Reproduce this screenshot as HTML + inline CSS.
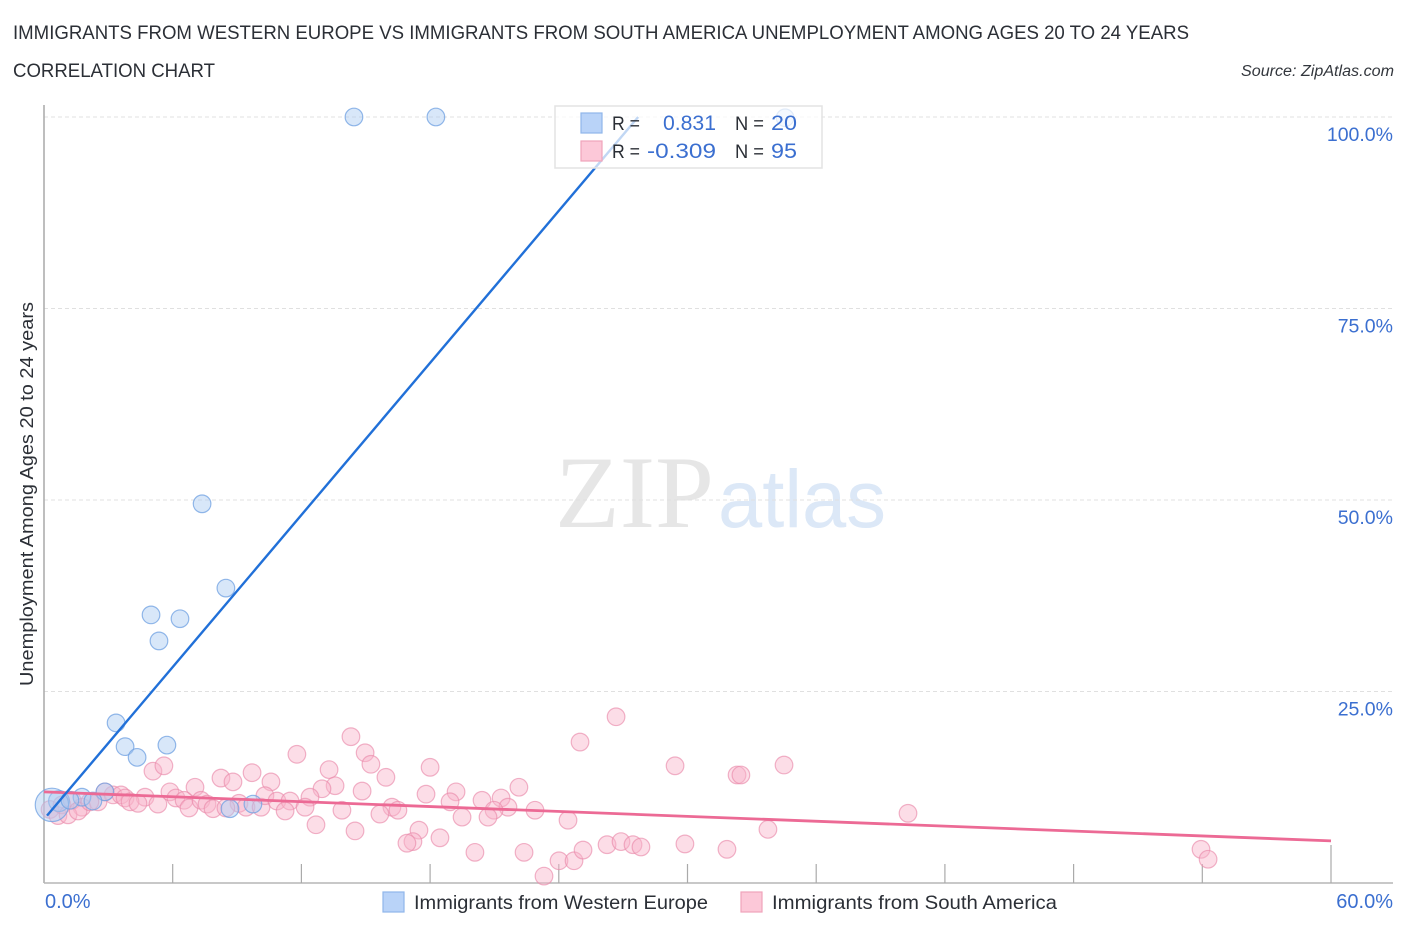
<!DOCTYPE html>
<html lang="en">
<head>
<meta charset="utf-8">
<title>Unemployment Among Ages 20 to 24 years Correlation Chart</title>
<style>
html,body{margin:0;padding:0;background:#fff;}
svg{display:block;font-family:"Liberation Sans",sans-serif;}
</style>
</head>
<body>
<svg id="chart" width="1406" height="930" viewBox="0 0 1406 930" xmlns="http://www.w3.org/2000/svg">
  <rect x="0" y="0" width="1406" height="930" fill="#ffffff"/>
  <text x="13" y="39" font-size="19" fill="#2b2f36" textLength="1176" lengthAdjust="spacingAndGlyphs">IMMIGRANTS FROM WESTERN EUROPE VS IMMIGRANTS FROM SOUTH AMERICA UNEMPLOYMENT AMONG AGES 20 TO 24 YEARS</text>
  <text x="13" y="77" font-size="19" fill="#2b2f36" textLength="202" lengthAdjust="spacingAndGlyphs">CORRELATION CHART</text>
  <text x="1394" y="76" font-size="15.5" font-style="italic" fill="#33373d" text-anchor="end" textLength="153" lengthAdjust="spacingAndGlyphs">Source: ZipAtlas.com</text>
  <g>
    <text x="555" y="527" font-family="'Liberation Serif',serif" font-size="103" fill="#e6e6e6" textLength="159" lengthAdjust="spacingAndGlyphs">ZIP</text>
    <text x="718" y="527" font-size="82" fill="#dce8f7" textLength="168" lengthAdjust="spacingAndGlyphs">atlas</text>
  </g>
  <g id="grid"></g>
  <g id="axes"></g>
  <g id="pink-points"></g>
  <g id="blue-points"></g>
  <g id="trends"></g>
  <g id="tick-labels"></g>
  <text transform="translate(33,686) rotate(-90)" font-size="18.5" fill="#2b2f36" textLength="384" lengthAdjust="spacingAndGlyphs">Unemployment Among Ages 20 to 24 years</text>

  <g>
    <rect x="555" y="106" width="267" height="62" fill="#ffffff" fill-opacity="0.72" stroke="#e3e3e3" stroke-width="1.5"/>
    <rect x="581" y="113" width="21" height="20" fill="#b9d3f8" stroke="#8fb6ea" stroke-width="1.2"/>
    <rect x="581" y="141" width="21" height="20" fill="#fcc8d8" stroke="#f0a3ba" stroke-width="1.2"/>
    <text x="612" y="130" font-size="19.5" fill="#2b2f36" textLength="28" lengthAdjust="spacingAndGlyphs">R =</text>
    <text x="716" y="130" font-size="21" fill="#3b6fd0" text-anchor="end" textLength="53" lengthAdjust="spacingAndGlyphs">0.831</text>
    <text x="735" y="130" font-size="19.5" fill="#2b2f36" textLength="29" lengthAdjust="spacingAndGlyphs">N =</text>
    <text x="771" y="130" font-size="21" fill="#3b6fd0" textLength="26" lengthAdjust="spacingAndGlyphs">20</text>
    <text x="612" y="158" font-size="19.5" fill="#2b2f36" textLength="28" lengthAdjust="spacingAndGlyphs">R =</text>
    <text x="716" y="158" font-size="21" fill="#3b6fd0" text-anchor="end" textLength="69" lengthAdjust="spacingAndGlyphs">-0.309</text>
    <text x="735" y="158" font-size="19.5" fill="#2b2f36" textLength="29" lengthAdjust="spacingAndGlyphs">N =</text>
    <text x="771" y="158" font-size="21" fill="#3b6fd0" textLength="26" lengthAdjust="spacingAndGlyphs">95</text>
  </g>

  <g>
    <g>
      <rect x="383" y="892" width="21" height="20" fill="#b9d3f8" stroke="#8fb6ea" stroke-width="1.2"/>
      <text x="414" y="909" font-size="19.5" fill="#2b2f36" textLength="294" lengthAdjust="spacingAndGlyphs">Immigrants from Western Europe</text>
    </g>
    <g>
      <rect x="741" y="892" width="21" height="20" fill="#fcc8d8" stroke="#f0a3ba" stroke-width="1.2"/>
      <text x="772" y="909" font-size="19.5" fill="#2b2f36" textLength="285" lengthAdjust="spacingAndGlyphs">Immigrants from South America</text>
    </g>
  </g>
</svg>
<script>
const yTickValues = [25, 50, 75, 100];
const yTickLabels = ["25.0%", "50.0%", "75.0%", "100.0%"];
const xTickValues = [0, 6, 12, 18, 24, 30, 36, 42, 48, 54, 60];
const xEndValues = [0, 60];
const xEndLabels = ["0.0%", "60.0%"];

const blueX = [14.45,18.27,34.55,7.37,8.48,4.99,6.34,5.36,3.36,3.78,4.34,5.73,2.84,8.67,9.74,0.70,1.77,2.28,0.37,1.21];
const blueY = [100,100,99.9,49.5,38.5,35.0,34.5,31.6,20.9,17.8,16.4,18.0,11.9,9.7,10.3,10.7,11.2,10.7,10.2,10.8];
const blueWeight = [1,1,1,1,1,1,1,1,1,1,1,1,1,1,1,1.4,1,1,3.6,1];

const pinkX = [5.08,5.59,11.79,14.31,14.97,15.24,15.94,18.0,8.25,8.81,9.70,10.58,13.29,13.57,12.96,12.40,7.04,5.87,4.71,14.83,17.81,19.21,18.93,20.42,21.31,22.14,21.63,20.98,20.70,19.49,22.89,24.43,16.22,16.50,15.66,13.89,14.50,17.48,17.20,16.92,18.46,20.09,22.38,23.31,24.01,24.71,25.13,26.25,26.90,27.46,27.83,29.88,31.84,24.99,26.67,29.42,32.31,32.49,34.50,40.28,33.75,53.94,54.27,1.77,2.52,3.22,3.59,3.78,4.01,4.38,5.31,6.15,6.53,6.76,7.32,7.60,7.88,9.09,9.42,10.12,10.30,10.86,11.47,11.24,12.17,12.68,0.28,0.65,0.84,1.12,1.31,2.84,8.48,1.59,2.14];
const pinkY = [14.6,15.3,16.8,19.1,17.0,15.5,13.8,15.1,13.7,13.2,14.4,13.2,14.8,12.7,12.3,11.2,12.5,11.9,11.2,12.0,11.6,11.9,10.6,10.8,11.1,12.5,9.9,9.5,8.6,8.6,9.5,8.2,9.9,9.5,9.0,9.5,6.8,6.9,5.4,5.2,5.9,4.0,4.0,0.9,2.9,2.9,4.3,5.0,5.4,5.0,4.7,5.1,4.4,18.4,21.7,15.3,14.1,14.1,15.4,9.1,7.0,4.4,3.1,9.9,10.6,11.5,11.5,11.1,10.6,10.4,10.3,11.1,10.8,9.8,10.8,10.3,9.7,10.4,9.9,9.9,11.4,10.7,10.7,9.4,9.9,7.6,9.6,8.8,10.2,8.9,10.8,11.9,9.8,9.4,10.6];

const blueTrendX = [0.14, 27.7];
const blueTrendY = [8.8, 100];
const pinkTrendX = [0, 60];
const pinkTrendY = [11.9, 5.5];

const NS = "http://www.w3.org/2000/svg";
const xScale = v => 44 + v * 21.45;
const yScale = v => 883 - v * 7.66;
const BASE_R = 8.8;

function make(tag, attrs, parent) {
  const el = document.createElementNS(NS, tag);
  for (const k in attrs) el.setAttribute(k, attrs[k]);
  parent.appendChild(el);
  return el;
}

const grid = document.getElementById("grid");
yTickValues.forEach(v => {
  const l = make("line", {x1: 44, x2: 1393, y1: yScale(v), y2: yScale(v), stroke: "#e0e0e0", "stroke-width": 1, "stroke-dasharray": "4 3"}, grid);
  
  
});

const axes = document.getElementById("axes");
const yAxis = make("line", {x1: 44, x2: 44, y1: 105, y2: 883, stroke: "#a9a9a9", "stroke-width": 1.5}, axes);


const xAxis = make("line", {x1: 44, x2: 1393, y1: 883, y2: 883, stroke: "#b5b5b5", "stroke-width": 1.5}, axes);


xTickValues.slice(1).forEach((v, i, arr) => {
  const top = i === arr.length - 1 ? 845 : 864;
  const t = make("line", {x1: xScale(v), x2: xScale(v), y1: top, y2: 883, stroke: "#aaaaaa", "stroke-width": 1.2}, axes);
  
  
});

const labels = document.getElementById("tick-labels");
yTickValues.forEach((v, i) => {
  const t = make("text", {x: 1393, y: yScale(v) + 24, "font-size": 19.5, fill: "#3b6fd0", "text-anchor": "end"}, labels);
  
  
  t.textContent = yTickLabels[i];
});
xEndValues.forEach((v, i) => {
  const attrs = i === 0
    ? {x: xScale(v) + 1, "text-anchor": "start"}
    : {x: 1393, "text-anchor": "end"};
  const t = make("text", Object.assign(attrs, {y: 908, "font-size": 20, fill: "#3b6fd0"}), labels);
  
  
  t.textContent = xEndLabels[i];
});

const pinkG = document.getElementById("pink-points");
pinkX.forEach((x, i) => {
  const c = make("circle", {cx: xScale(x), cy: yScale(pinkY[i]), r: BASE_R, fill: "#f9b4ca", "fill-opacity": 0.45, stroke: "#ea8aaa", "stroke-opacity": 0.65, "stroke-width": 1.2}, pinkG);
  
  
});

const blueG = document.getElementById("blue-points");
blueX.forEach((x, i) => {
  const c = make("circle", {cx: xScale(x), cy: yScale(blueY[i]), r: BASE_R * Math.sqrt(blueWeight[i]), fill: "#a9c9f2", "fill-opacity": 0.45, stroke: "#6fa0e2", "stroke-opacity": 0.75, "stroke-width": 1.2}, blueG);
  
  
});

const trends = document.getElementById("trends");
const pinkLine = make("line", {x1: xScale(pinkTrendX[0]), y1: yScale(pinkTrendY[0]), x2: xScale(pinkTrendX[1]), y2: yScale(pinkTrendY[1]), stroke: "#ec6a95", "stroke-width": 2.8}, trends);


const blueLine = make("line", {x1: xScale(blueTrendX[0]), y1: yScale(blueTrendY[0]), x2: xScale(blueTrendX[1]), y2: yScale(blueTrendY[1]), stroke: "#2170d8", "stroke-width": 2.4}, trends);


</script>
</body>
</html>
